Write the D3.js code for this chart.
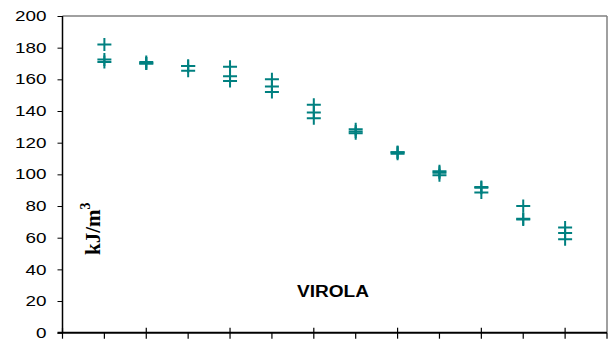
<!DOCTYPE html>
<html>
<head>
<meta charset="utf-8">
<script src="https://cdn.jsdelivr.net/npm/d3@7"></script>
<style>
  html, body { margin: 0; padding: 0; background: #fff; }
  svg { display: block; }
</style>
</head>
<body>
<svg id="chart" width="611" height="347"></svg>
<script>
// ---- data ----
const categories = [1, 2, 3, 4, 5, 6, 7, 8, 9, 10, 11, 12];
const series1 = [182, 171, 168.5, 168, 160, 144, 128.5, 114, 102, 92, 80, 66.5];
const series2 = [172.5, 170, 168.5, 162, 155.5, 139, 127, 114, 101, 91.5, 72, 63];
const series3 = [171, 170, 165.5, 159, 152, 135.5, 126, 113, 99.5, 88.5, 71.5, 59];
const yTickValues = [0, 20, 40, 60, 80, 100, 120, 140, 160, 180, 200];
const xMajorTicks = [0, 2, 4, 6, 8, 10, 12];
const xMinorTicks = [1, 3, 5, 7, 9, 11, 13];
const yTitle = "kJ/m";
const yTitleSup = "3";
const seriesLabel = "VIROLA";

// ---- layout ----
const pLeft = 62.5, pRight = 607, pTop = 16, pBottom = 332.7;
const svg = d3.select("#chart");
const x = d3.scaleLinear().domain([0, 13]).range([pLeft, pRight]);
const y = d3.scaleLinear().domain([0, 200]).range([pBottom, pTop]);
const teal = "#008080";

// frame (top/right in gray)
svg.append("line").attr("x1", pLeft).attr("x2", pRight).attr("y1", pTop).attr("y2", pTop)
  .attr("stroke", "#808080").attr("stroke-width", 1.5);
svg.append("line").attr("x1", pRight).attr("x2", pRight).attr("y1", pTop).attr("y2", pBottom)
  .attr("stroke", "#808080").attr("stroke-width", 1.5);

// y axis
const yAxis = d3.axisLeft(y).tickValues(yTickValues).tickSize(5).tickPadding(11).tickFormat(d3.format("d"));
const gy = svg.append("g").attr("transform", `translate(${pLeft},0)`).call(yAxis);
gy.select(".domain").attr("stroke", "#000").attr("stroke-width", 1.5).attr("d", `M0,${pBottom}V${pTop}`);
gy.selectAll(".tick line").attr("stroke", "#000").attr("stroke-width", 1);
gy.selectAll(".tick text")
  .attr("font-family", "Liberation Sans, Arial, sans-serif")
  .attr("font-size", 14.5)
  .attr("fill", "#000");
gy.selectAll(".tick text").each(function () {
  const len = this.getComputedTextLength();
  d3.select(this).attr("textLength", len * 1.3).attr("lengthAdjust", "spacingAndGlyphs");
});

// x axis
const gx = svg.append("g").attr("transform", `translate(0,${pBottom})`);
gx.append("line").attr("x1", pLeft - 5).attr("x2", pRight).attr("y1", 0).attr("y2", 0)
  .attr("stroke", "#000").attr("stroke-width", 2);
gx.selectAll(".major").data(xMajorTicks).join("line").attr("class", "major")
  .attr("x1", d => x(d)).attr("x2", d => x(d)).attr("y1", -5).attr("y2", 6)
  .attr("stroke", "#000").attr("stroke-width", 1.2);
gx.selectAll(".minor").data(xMinorTicks).join("line").attr("class", "minor")
  .attr("x1", d => x(d)).attr("x2", d => x(d)).attr("y1", 0).attr("y2", 6)
  .attr("stroke", "#000").attr("stroke-width", 1.2);

// markers
const allSeries = [series1, series2, series3];
const hx = 7, hy = 6.5;
const marks = svg.append("g");
allSeries.forEach((s, si) => {
  marks.selectAll(`.m${si}`).data(categories.map((c, i) => [c, s[i]])).join("path")
    .attr("class", `m${si}`)
    .attr("d", d => `M${x(d[0]) - hx},${y(d[1])}H${x(d[0]) + hx}M${x(d[0])},${y(d[1]) - hy}V${y(d[1]) + hy}`)
    .attr("stroke", teal).attr("stroke-width", 2).attr("fill", "none");
});

// series label
const lab = svg.append("text").attr("x", 297).attr("y", 297)
  .attr("font-family", "Liberation Sans, Arial, sans-serif")
  .attr("font-weight", "bold").attr("font-size", 16).attr("fill", "#000")
  .text(seriesLabel);
lab.attr("textLength", 72).attr("lengthAdjust", "spacingAndGlyphs");

// y title (rotated)
const yt = svg.append("text")
  .attr("transform", "translate(100,255) rotate(-90)")
  .attr("font-family", "Liberation Serif, Times New Roman, serif")
  .attr("font-weight", "bold").attr("font-size", 21).attr("fill", "#000");
yt.append("tspan").text(yTitle);
yt.append("tspan").attr("dy", -10).attr("font-size", 14).text(yTitleSup);
</script>
</body>
</html>
